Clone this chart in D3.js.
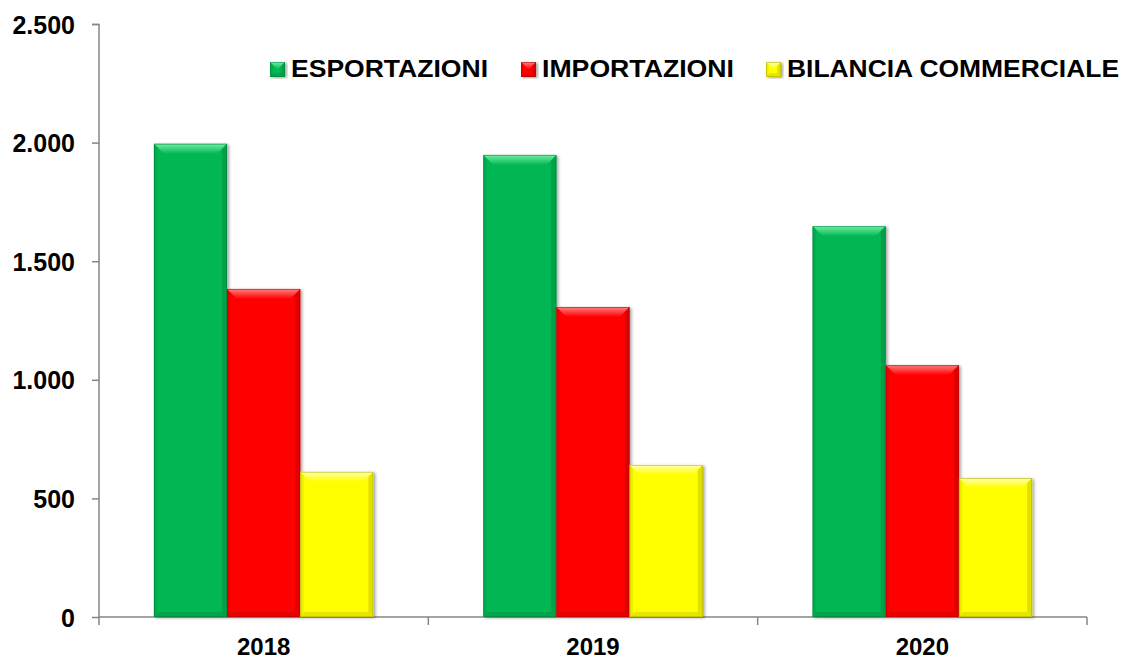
<!DOCTYPE html>
<html>
<head>
<meta charset="utf-8">
<script src="https://cdn.jsdelivr.net/npm/d3@7/dist/d3.min.js"></script>
<style>
	body { margin: 0; background: #fff; }
	svg text { font-family: "Liberation Sans", Arial, sans-serif; font-weight: bold; fill: #000; }
	.axis path, .axis line { stroke: #868686; stroke-width: 1.5; }
</style>
</head>
<body>
<svg></svg>
<script>
	var years = ["2018", "2019", "2020"];
	var seriesNames = ["ESPORTAZIONI", "IMPORTAZIONI", "BILANCIA COMMERCIALE"];
	var esportazioni = [1995, 1948, 1648];
	var importazioni = [1383, 1307, 1062];
	var bilancia = [612, 641, 586];
	var yTicks = [0, 500, 1000, 1500, 2000, 2500];

	var colors = ["#06b752", "#ff0000", "#ffff00"];
	var darks = ["#04793a", "#a80000", "#a8a800"];
	var lights = ["#6ff0a4", "#ff8080", "#ffffb0"];

	var width = 1124, height = 660;
	var margins = { left: 99, right: 37, top: 24, bottom: 43 };
	var plotW = width - margins.left - margins.right;
	var plotH = height - margins.top - margins.bottom;

	var svg = d3.select("svg").attr("width", width).attr("height", height);

	var defs = svg.append("defs");
	colors.forEach(function (c, i) {
		var g = defs.append("linearGradient").attr("id", "top" + i)
			.attr("x1", 0).attr("y1", 0).attr("x2", 0).attr("y2", 1);
		g.append("stop").attr("offset", 0).attr("stop-color", lights[i]);
		g.append("stop").attr("offset", 1).attr("stop-color", c);
	});
	var filt = defs.append("filter").attr("id", "shadow").attr("x", "-10%").attr("y", "-10%").attr("width", "130%").attr("height", "120%");
	filt.append("feDropShadow").attr("dx", 2).attr("dy", 1).attr("stdDeviation", 1.5).attr("flood-color", "#000").attr("flood-opacity", 0.35);

	var locale = d3.formatLocale({ decimal: ",", thousands: ".", grouping: [3], currency: ["€", ""] });
	var fmt = locale.format(",d");

	var x = d3.scaleBand().domain(years).range([0, plotW]).paddingInner(0).paddingOuter(0);
	var xs = d3.scaleBand().domain(seriesNames).range([0, x.bandwidth()]).paddingOuter(0.75).paddingInner(0);
	var y = d3.scaleLinear().domain([0, 2500]).range([plotH, 0]);

	var g = svg.append("g").attr("transform", "translate(" + margins.left + "," + margins.top + ")");

	// axes
	g.append("g").attr("class", "axis")
		.call(d3.axisLeft(y).tickValues(yTicks).tickFormat(fmt).tickSize(7).tickPadding(17))
		.call(function (a) { a.select(".domain").attr("d", "M-7,0.5H0V" + plotH); })
		.selectAll("text").style("font-size", "25px").attr("dy", "0.36em");

	var xa = g.append("g").attr("class", "axis").attr("transform", "translate(0," + plotH + ")")
		.call(d3.axisBottom(x).tickSize(0).tickPadding(21))
		.call(function (a) { a.select(".domain").attr("d", "M0,0H" + plotW); });
	xa.selectAll("text").style("font-size", "24px").attr("dy", "0.71em");
	xa.selectAll(".bound").data(years.concat(["end"])).enter().append("line")
		.attr("class", "bound")
		.attr("x1", function (d, i) { return i * x.step(); })
		.attr("x2", function (d, i) { return i * x.step(); })
		.attr("y1", 0).attr("y2", 8);

	// bars
	var data = [];
	years.forEach(function (yr, j) {
		[esportazioni, importazioni, bilancia].forEach(function (arr, i) {
			data.push({ year: yr, s: i, name: seriesNames[i], v: arr[j] });
		});
	});

	function bevelBar(sel, bx, by, bw, bh, i) {
		var b = Math.min(10, bh / 2);
		sel.append("rect").attr("x", bx).attr("y", by).attr("width", bw).attr("height", bh)
			.attr("fill", colors[i]).attr("filter", "url(#shadow)");
		// top bevel
		sel.append("path").attr("d", "M" + bx + "," + by + "h" + bw + "l" + (-b) + "," + b + "h" + (-(bw - 2 * b)) + "z")
			.attr("fill", "url(#top" + i + ")");
		// right side
		sel.append("path").attr("d", "M" + (bx + bw) + "," + by + "v" + bh + "l" + (-b / 2) + "," + (-b / 2) + "v" + (-(bh - b)) + "z")
			.attr("fill", darks[i]).attr("opacity", 0.35);
		// bottom
		sel.append("path").attr("d", "M" + bx + "," + (by + bh) + "h" + bw + "l" + (-b / 2) + "," + (-b / 2) + "h" + (-(bw - b)) + "z")
			.attr("fill", darks[i]).attr("opacity", 0.3);
		// left
		sel.append("path").attr("d", "M" + bx + "," + by + "v" + bh + "l" + (b / 3) + "," + (-b / 3) + "v" + (-(bh - 2 * b / 3)) + "z")
			.attr("fill", darks[i]).attr("opacity", 0.2);
		sel.append("rect").attr("x", bx + 0.5).attr("y", by + 0.5).attr("width", bw - 1).attr("height", bh - 1)
			.attr("fill", "none").attr("stroke", darks[i]).attr("stroke-opacity", 0.5).attr("stroke-width", 1);
	}

	var bars = g.append("g");
	data.forEach(function (d) {
		var bx = x(d.year) + xs(d.name);
		var by = y(d.v);
		bevelBar(bars.append("g"), bx, by, xs.bandwidth(), plotH - by, d.s);
	});

	// legend
	var legendX = [270, 521, 766];
	var legendW = [197, 192, 332];
	var legend = svg.append("g");
	seriesNames.forEach(function (n, i) {
		var lg = legend.append("g").attr("transform", "translate(" + legendX[i] + ",0)");
		bevelBar(lg, 0, 62, 15, 15, i);
		lg.append("text").attr("x", 21).attr("y", 77).style("font-size", "24px")
			.attr("textLength", legendW[i]).attr("lengthAdjust", "spacingAndGlyphs").text(n);
	});
</script>
</body>
</html>
